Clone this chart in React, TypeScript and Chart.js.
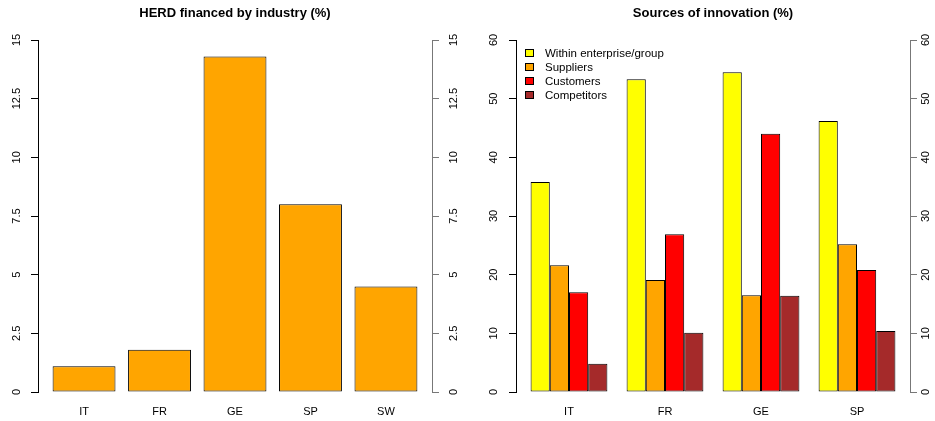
import React, { useEffect, useRef } from "react";
import { Chart, registerables } from "chart.js";

Chart.register(...registerables);

// ---------- data ----------
const herdTitle = "HERD financed by industry (%)";
const herdCountries = ["IT", "FR", "GE", "SP", "SW"];
const herdValues = [1.1, 1.8, 14.3, 8.0, 4.5];
const herdTicks = [0, 2.5, 5, 7.5, 10, 12.5, 15];

const innovTitle = "Sources of innovation (%)";
const innovCountries = ["IT", "FR", "GE", "SP"];
const innovSeries = ["Within enterprise/group", "Suppliers", "Customers", "Competitors"];
const withinValues = [35.8, 53.3, 54.5, 46.2];
const suppliersValues = [21.6, 19.1, 16.5, 25.2];
const customersValues = [17.0, 26.9, 44.0, 20.8];
const competitorsValues = [4.8, 10.1, 16.4, 10.4];
const innovColors = ["#FFFF00", "#FFA500", "#FF0000", "#A52A2A"];
const innovTicks = [0, 10, 20, 30, 40, 50, 60];

const FONT = "'Liberation Sans', Arial, Helvetica, sans-serif";

function yAxis(
  position: "left" | "right",
  max: number,
  ticks: number[],
  color: string,
  width: number,
  padding: number
) {
  return {
    type: "linear",
    position,
    min: 0,
    max,
    afterBuildTicks: (s: any) => {
      s.ticks = ticks.map((v) => ({ value: v }));
    },
    afterFit: (s: any) => {
      s.width = width;
    },
    ticks: {
      minRotation: 90,
      maxRotation: 90,
      crossAlign: "center",
      padding,
      color: "#000",
      font: { size: 11, family: FONT },
      callback: (v: any) => String(v),
    },
    grid: {
      display: true,
      drawOnChartArea: false,
      drawTicks: true,
      tickLength: 7,
      color,
      lineWidth: 1,
    },
    border: { display: true, color, width: 1 },
  };
}

function xAxis(labels: string[], pad: number) {
  return {
    type: "linear",
    position: "bottom",
    offset: false,
    min: -0.5 - pad,
    max: labels.length - 0.5 + pad,
    afterBuildTicks: (s: any) => {
      s.ticks = labels.map((_, i) => ({ value: i }));
    },
    afterFit: (s: any) => {
      s.height = 29;
    },
    ticks: {
      padding: 13,
      autoSkip: false,
      maxRotation: 0,
      minRotation: 0,
      color: "#000",
      font: { size: 11, family: FONT },
      callback: (v: any) => labels[v] ?? "",
    },
    grid: { display: false, drawTicks: false, offset: false },
    border: { display: false },
  };
}

const titleOpts = (text: string) => ({
  display: true,
  text,
  fullSize: false,
  color: "#000",
  font: { size: 13, weight: "bold", family: FONT },
  padding: { top: 5.2, bottom: 19.2 },
});

const innovLegend = {
  id: "innovLegend",
  afterDatasetsDraw(chart: any) {
    const { ctx, chartArea } = chart;
    ctx.save();
    ctx.font = `11.5px ${FONT}`;
    ctx.textBaseline = "middle";
    ctx.textAlign = "left";
    chart.data.datasets.forEach((ds: any, i: number) => {
      const y = chartArea.top + 13 + i * 14;
      const bx = Math.round(chartArea.left + 9) + 0.5;
      const by = Math.round(y - 4) + 0.5;
      ctx.fillStyle = ds.backgroundColor;
      ctx.fillRect(bx, by, 8, 7);
      ctx.strokeStyle = "#000";
      ctx.lineWidth = 1;
      ctx.strokeRect(bx, by, 8, 7);
      ctx.fillStyle = "#000";
      ctx.fillText(ds.label, chartArea.left + 29, y + 0.5);
    });
    ctx.restore();
  },
};

function HerdChart() {
  const ref = useRef<HTMLCanvasElement>(null);
  useEffect(() => {
    const chart = new Chart(ref.current!, {
      type: "bar",
      data: {
        datasets: [
          {
            label: "HERD",
            data: herdValues.map((v, i) => ({ x: i, y: v })),
            backgroundColor: "#FFA500",
            borderColor: "#000",
            borderWidth: 1,
            borderSkipped: false,
            barPercentage: 1 / 1.2,
            categoryPercentage: 1,
          },
        ],
      } as any,
      options: {
        responsive: false,
        animation: false,
        devicePixelRatio: 1,
        layout: { padding: 0 },
        plugins: {
          legend: { display: false },
          tooltip: { enabled: false },
          title: titleOpts(herdTitle) as any,
        },
        scales: {
          x: xAxis(herdCountries, 0.11) as any,
          y: yAxis("left", 15, herdTicks, "#000", 38, 3) as any,
          y2: yAxis("right", 15, herdTicks, "#777777", 35, 4) as any,
        },
      },
    });
    return () => chart.destroy();
  }, []);
  return <canvas ref={ref} width={467} height={421} style={{ display: "block" }} />;
}

function InnovChart() {
  const ref = useRef<HTMLCanvasElement>(null);
  useEffect(() => {
    const series = [withinValues, suppliersValues, customersValues, competitorsValues];
    const chart = new Chart(ref.current!, {
      type: "bar",
      data: {
        datasets: series.map((vals, k) => ({
          label: innovSeries[k],
          data: vals.map((v, i) => ({ x: i, y: v })),
          backgroundColor: innovColors[k],
          borderColor: "#000",
          borderWidth: 1,
          borderSkipped: false,
          barPercentage: 1,
          categoryPercentage: 0.8,
        })),
      } as any,
      options: {
        responsive: false,
        animation: false,
        devicePixelRatio: 1,
        layout: { padding: 0 },
        plugins: {
          legend: { display: false },
          tooltip: { enabled: false },
          title: titleOpts(innovTitle) as any,
        },
        scales: {
          x: xAxis(innovCountries, 0.052) as any,
          y: yAxis("left", 60, innovTicks, "#000", 49, 9) as any,
          y2: yAxis("right", 60, innovTicks, "#777777", 25, 2.4) as any,
        },
      },
      plugins: [innovLegend],
    });
    return () => chart.destroy();
  }, []);
  return <canvas ref={ref} width={468} height={421} style={{ display: "block" }} />;
}

export default function App() {
  return (
    <div
      style={{
        position: "absolute",
        left: 0,
        top: 0,
        width: 935,
        height: 421,
        display: "flex",
        background: "#fff",
      }}
    >
      <HerdChart />
      <InnovChart />
    </div>
  );
}
